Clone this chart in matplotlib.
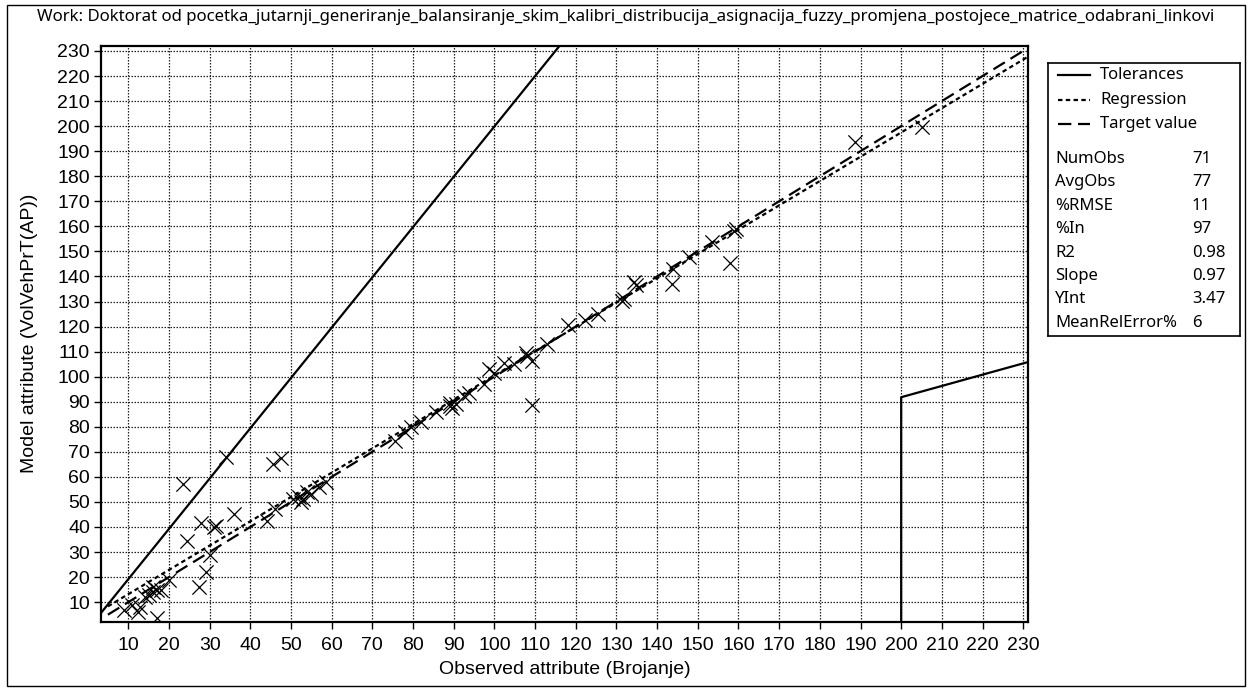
import matplotlib
matplotlib.use('Agg')
import matplotlib.pyplot as plt
from matplotlib.patches import Rectangle
from matplotlib.lines import Line2D

plt.rcParams['font.family'] = ['Liberation Sans', 'DejaVu Sans']

TITLE = 'Work: Doktorat od pocetka_jutarnji_generiranje_balansiranje_skim_kalibri_distribucija_asignacija_fuzzy_promjena_postojece_matrice_odabrani_linkovi'

# observed vs. model values
obs = [9, 12.9, 12.5, 17, 14, 15, 16, 17, 18, 16, 20, 27.5, 29, 30, 24.5, 28, 31, 31.5,
       36, 44, 46, 23.5, 34, 45.5, 47.5, 50.5, 52, 52.5, 53, 55, 57, 58.5, 54, 75.5, 78,
       79.5, 82, 85.6, 89, 89.7, 90.5, 92.6, 93.8, 97.5, 98.7, 100, 102.4, 104.8, 107.7,
       108.1, 109.3, 109.3, 113, 118, 122.2, 125.5, 131.8, 131.4, 134.3, 134.7, 143.7,
       144, 147.8, 153.5, 158, 159, 159.3, 188.6, 205, 11, 89]
model = [7, 8.2, 6.2, 3.5, 12, 13, 14, 15, 15, 16, 19, 16, 22, 29, 34.5, 41.5, 40, 40.5,
         45, 42.5, 47, 57, 68, 65, 67.5, 51, 52, 50, 51, 53, 56, 58, 54, 74.5, 78,
         80, 82, 85.8, 88.2, 87.6, 89, 92.2, 93.6, 97, 103, 101.6, 105.6, 105, 109.6,
         108.2, 106.2, 88.5, 113, 120.5, 122.5, 125, 131, 130.3, 137.6, 136.5, 137,
         143, 147.6, 153.6, 145.5, 158, 158.8, 193.8, 199.6, 9, 89.5]

x_min, x_max = 3.3, 231.1
y_min, y_max = 2.2, 232.1

# tolerance curves
tol_up_x = [x_min, 116.05]
tol_up_y = [5.7, 232.1]
tol_lo_x = [200, 200, 231.1]
tol_lo_y = [2.2, 91.8, 105.8]

slope, yint = 0.97, 3.47
line_x = [5, 231.1]

legend_lines = ['Tolerances', 'Regression', 'Target value']
stat_names = ['NumObs', 'AvgObs', '%RMSE', '%In', 'R2', 'Slope', 'YInt', 'MeanRelError%']
stat_values = ['71', '77', '11', '97', '0.98', '0.97', '3.47', '6']

W, H = 1252, 689
fig = plt.figure(figsize=(W / 100, H / 100), dpi=100)
fig.add_artist(Rectangle((7 / W, 1 - 686 / H), 1238 / W, 681 / H, transform=fig.transFigure,
                         fill=False, edgecolor='black', linewidth=1))

ax = fig.add_axes([101 / W, 1 - 621.7 / H, 926.7 / W, 576 / H])
ax.set_xlim(x_min, x_max)
ax.set_ylim(y_min, y_max)
ax.set_xticks(range(10, 231, 10))
ax.set_yticks(range(10, 231, 10))
ax.tick_params(labelsize=14, length=5, width=1, direction='out')
ax.tick_params(axis='x', pad=6)
ax.tick_params(axis='y', pad=3)
ax.grid(True, color='#222222', linestyle=(0, (1.2, 1.2)), linewidth=0.9)
ax.set_axisbelow(True)
for s in ax.spines.values():
    s.set_linewidth(1.6)

ax.plot(tol_up_x, tol_up_y, color='black', linewidth=1.6, solid_capstyle='butt')
ax.plot(tol_lo_x, tol_lo_y, color='black', linewidth=1.6, solid_capstyle='butt')
ax.plot(line_x, [slope * v + yint for v in line_x], color='black', linewidth=1.6,
        linestyle=(0, (2, 1.5)))
ax.plot(line_x, line_x, color='black', linewidth=1.6, linestyle=(0, (6, 3)))
ax.scatter(obs, model, marker='x', s=105, color='black', linewidths=0.9, zorder=3)

ax.set_xlabel('Observed attribute (Brojanje)', fontsize=14, labelpad=5)
ax.set_ylabel('Model attribute (VolVehPrT(AP))', fontsize=14, labelpad=14)

fig.text(37 / W, 1 - 17 / H, TITLE, fontsize=12.1, va='center', ha='left',
         family=['Noto Sans', 'DejaVu Sans'])

# legend box drawn in pixel coordinates
lx0, lx1, ly0, ly1 = 1048, 1240, 63, 336
lax = fig.add_axes([lx0 / W, 1 - ly1 / H, (lx1 - lx0) / W, (ly1 - ly0) / H])
lax.set_xlim(lx0, lx1)
lax.set_ylim(ly1, ly0)
lax.set_xticks([])
lax.set_yticks([])
for s in lax.spines.values():
    s.set_linewidth(1.2)

styles = ['-', (0, (2, 1.5)), (0, (6, 3))]
for i, (name, ls) in enumerate(zip(legend_lines, styles)):
    yy = 75 + i * 24.5
    lax.add_line(Line2D([1058, 1090], [yy, yy], color='black', linewidth=1.6, linestyle=ls))
    lax.text(1100, yy, name, fontsize=12, va='center', family=['Noto Sans', 'DejaVu Sans'])

for i, (name, val) in enumerate(zip(stat_names, stat_values)):
    yy = 159 + i * 23.4
    lax.text(1055, yy, name, fontsize=12, va='center', family=['Noto Sans', 'DejaVu Sans'])
    lax.text(1192, yy, val, fontsize=12, va='center', family=['Noto Sans', 'DejaVu Sans'])

fig.savefig('out.png', dpi=100)
